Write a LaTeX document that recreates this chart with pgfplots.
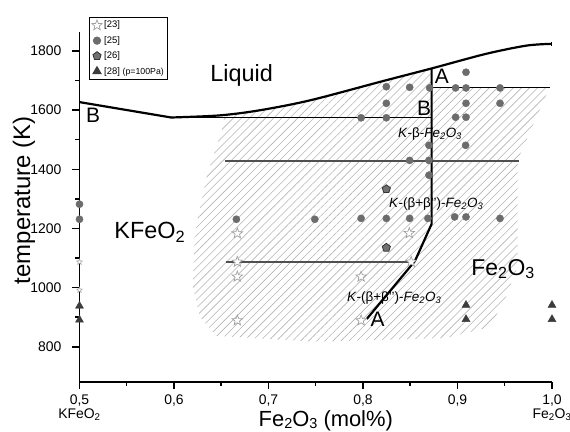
\documentclass[border=0pt]{standalone}
\usepackage{fontspec}
\setmainfont{Liberation Sans}
\usepackage{pgfplots}
\pgfplotsset{compat=1.18}
\usetikzlibrary{patterns.meta}
\definecolor{dotgray}{RGB}{108,108,108}
\definecolor{pentgray}{RGB}{112,112,112}
\definecolor{trigray}{RGB}{60,60,60}
\definecolor{stargray}{RGB}{160,160,160}
\definecolor{hatchgray}{RGB}{180,180,180}
\definecolor{linegray}{RGB}{80,80,80}
\pgfdeclareplotmark{pentstar}{%
 \pgfpathmoveto{\pgfpointpolar{90}{\pgfplotmarksize}}%
 \pgfpathlineto{\pgfpointpolar{126}{0.42\pgfplotmarksize}}%
 \pgfpathlineto{\pgfpointpolar{162}{\pgfplotmarksize}}%
 \pgfpathlineto{\pgfpointpolar{198}{0.42\pgfplotmarksize}}%
 \pgfpathlineto{\pgfpointpolar{234}{\pgfplotmarksize}}%
 \pgfpathlineto{\pgfpointpolar{270}{0.42\pgfplotmarksize}}%
 \pgfpathlineto{\pgfpointpolar{306}{\pgfplotmarksize}}%
 \pgfpathlineto{\pgfpointpolar{342}{0.42\pgfplotmarksize}}%
 \pgfpathlineto{\pgfpointpolar{18}{\pgfplotmarksize}}%
 \pgfpathlineto{\pgfpointpolar{54}{0.42\pgfplotmarksize}}%
 \pgfpathclose\pgfusepathqfillstroke}
\newcommand\lgf{\fontsize{9.5}{11}\selectfont}
\newcommand\lgs{\fontsize{8.8}{11}\selectfont}
\newcommand\tkf{\fontsize{14}{13.4}\selectfont}
\newcommand\lsub[1]{\raisebox{-0.1em}{\fontsize{14.5}{15}\selectfont #1}}
\begin{document}
\begin{tikzpicture}
\begin{axis}[
  scale only axis, width=472.5bp, height=350bp,
  xmin=0.5, xmax=1.0, ymin=682, ymax=1865,
  axis lines*=left,
  axis line style={line width=1.8bp},
  axis on top,
  tick align=outside,
  major tick length=7bp, minor tick length=4bp,
  tick style={line width=1.5bp, black},
  xtick={0.5,0.6,0.7,0.8,0.9,1.0},
  xticklabels={{0,5\\KFeO\textsubscript{2}},{0,6},{0,7},{0,8},{0,9},{1,0\\Fe\textsubscript{2}O\textsubscript{3}}},
  minor x tick num=1,
  ytick={800,1000,...,1800},
  yticklabels={800,1000,1200,1400,1600,1800},
  minor y tick num=1,
  tick label style={font=\tkf},
  xticklabel style={align=center, font=\tkf, yshift=-3bp},
  yticklabel style={font=\tkf, xshift=-7.5bp},
  xlabel={Fe\lsub{2}O\lsub{3} (mol\%)},
  xlabel style={at={(axis description cs:0.5213,-0.1266)}, anchor=base, inner sep=0pt, font=\fontsize{22}{24}\selectfont},
  ylabel={temperature (K)},
  ylabel style={at={(axis description cs:-0.1044,0.518)}, anchor=base, inner sep=0pt, font=\fontsize{24}{27}\selectfont},
  legend style={at={(axis description cs:0.0207,1.043)}, anchor=north west, draw=black, line width=1bp,
    font=\lgf, inner xsep=2bp, inner ysep=2bp, row sep=3bp, fill=white},
  legend cell align=left,
]
% hatched region
\addplot[draw=none, forget plot, pattern={Lines[angle=45,distance=5.7bp,line width=0.6bp]}, pattern color=hatchgray]
 coordinates {(0.6506,1575) (0.69,1599) (0.744,1633) (0.821,1698) (0.8726,1742) (0.8726,1677) (0.9974,1677)
 (0.9635,1430) (0.9635,1069) (0.95,958) (0.934,867) (0.8885,830) (0.75,817) (0.645,837) (0.6274,901)
 (0.62,1002) (0.622,1184) (0.6345,1374) (0.6538,1565)} -- cycle;
% horizontal lines
\addplot[forget plot, black, line width=1.8bp] coordinates {(0.597,1575) (0.8726,1575)};
\addplot[forget plot, black, line width=1.5bp] coordinates {(0.8726,1677) (0.9974,1677)};
\addplot[forget plot, linegray, line width=1.4bp] coordinates {(0.6538,1428) (0.9646,1428)};
\addplot[forget plot, linegray, line width=1.4bp] coordinates {(0.6545,1087) (0.855,1087)};
% liquidus
\addplot[forget plot, black, line width=2.2bp] coordinates {(0.5,1627) (0.597,1575)};
\addplot[forget plot, black, line width=2.2bp, smooth] coordinates {(0.597,1575) (0.648,1582) (0.69,1599) (0.744,1633) (0.821,1698) (0.874,1742) (0.93,1790) (0.973,1818) (1.0,1824)};
\addplot[forget plot, black, line width=1.5bp] coordinates {(1.0,1830) (1.0,1815)};
% boundary
\addplot[forget plot, black, line width=2.2bp] coordinates {(0.8726,1742) (0.8726,1215) (0.855,1090) (0.804,894)};
% data
\addplot[only marks, mark=pentstar, mark size=5.5bp, mark options={draw=stargray, fill=white, line width=0.7bp}]
 coordinates {(0.667,1183) (0.667,1087) (0.667,1037) (0.667,889) (0.798,1037) (0.798,889) (0.849,1184) (0.851,1087)};
\addlegendentry{\lgf [23]}
\addplot[only marks, mark=*, mark size=3.6bp, mark options={draw=dotgray, fill=dotgray}]
 coordinates {(0.5,1282) (0.5,1231) (0.666,1231) (0.749,1231)
 (0.8247,1679) (0.8494,1677) (0.8705,1675) (0.898,1675) (0.909,1728) (0.909,1675) (0.945,1675)
 (0.8247,1623) (0.909,1623) (0.945,1623)
 (0.798,1574) (0.8247,1574) (0.898,1576) (0.909,1576)
 (0.8698,1481) (0.9086,1481) (0.8494,1430) (0.8698,1430) (0.8698,1380)
 (0.798,1234) (0.8247,1234) (0.8494,1234) (0.8687,1234) (0.897,1239) (0.909,1239) (0.945,1234)};
\addlegendentry{\lgf [25]}
\addplot[only marks, mark=pentagon*, mark size=4.3bp, mark options={draw=black!80, fill=pentgray, line width=0.8bp}]
 coordinates {(0.8247,1333) (0.8247,1135)};
\addlegendentry{\lgf [26]}
\addplot[only marks, mark=triangle*, mark size=4.6bp, mark options={draw=trigray, fill=trigray}]
 coordinates {(0.5,938) (0.5,891) (0.909,941) (0.909,893) (1.0,941) (1.0,893)};
\addlegendentry{\lgf [28] \lgs(p=100Pa)}
\addplot[forget plot, only marks, mark=pentstar, mark size=3bp, mark options={draw=stargray, fill=white, line width=0.5bp}]
 coordinates {(0.5,1087) (0.5,992)};
% labels
\node[anchor=base, inner sep=0pt, font=\fontsize{23.5}{26}\selectfont] at (axis cs:0.6715,1698) {Liquid};
\node[anchor=base west, inner sep=0pt, font=\fontsize{23.5}{26}\selectfont] at (axis cs:0.5368,1166) {KFeO\textsubscript{2}};
\node[anchor=base west, inner sep=0pt, font=\fontsize{23}{26}\selectfont] at (axis cs:0.9146,1042) {Fe\textsubscript{2}O\textsubscript{3}};
\node[anchor=base west, inner sep=0pt, font=\fontsize{21}{24}\selectfont] at (axis cs:0.5069,1558) {B};
\node[anchor=base west, inner sep=0pt, font=\fontsize{21}{24}\selectfont] at (axis cs:0.8571,1583) {B};
\node[anchor=base west, inner sep=0pt, font=\fontsize{21}{24}\selectfont] at (axis cs:0.8758,1690) {A};
\node[anchor=base west, inner sep=0pt, font=\fontsize{21}{24}\selectfont] at (axis cs:0.8078,868) {A};
\node[anchor=base west, inner sep=0pt, font=\fontsize{13.5}{15}\selectfont] at (axis cs:0.837,1508) {\textit{K}-β-\textit{Fe\textsubscript{2}O\textsubscript{3}}};
\node[anchor=base west, inner sep=0pt, font=\fontsize{13.5}{15}\selectfont] at (axis cs:0.8275,1271) {\textit{K}-(β+β{'}{'})-\textit{Fe\textsubscript{2}O\textsubscript{3}}};
\node[anchor=base west, inner sep=0pt, font=\fontsize{13.5}{15}\selectfont] at (axis cs:0.7831,952) {\textit{K}-(β+β{'}{'})-\textit{Fe\textsubscript{2}O\textsubscript{3}}};
\end{axis}
\pgfresetboundingbox
\path (current axis.south west) ++(-79.5bp,-50.3bp) rectangle ++(570bp,432bp);
\end{tikzpicture}
\end{document}
